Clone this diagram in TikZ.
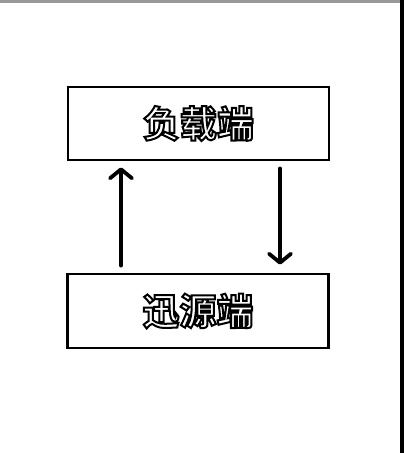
\documentclass[tikz,border=0pt]{standalone}
\usepackage{fontspec}
\newfontfamily\cjk{Noto Sans CJK SC Bold}
\usetikzlibrary{arrows.meta}
\newcommand{\outlinetext}[1]{{\color{white}\special{pdf:code 2 Tr 0 G 2 w}#1\special{pdf:code 0 Tr}}}
\tikzset{
  boxnode/.style={draw=black, line width=2.8pt, fill=white, minimum width=261pt, inner sep=0pt, font=\cjk\fontsize{37pt}{40pt}\selectfont},
  flowarrow/.style={line width=3.8pt, line cap=round, -{Straight Barb[length=9pt,width=22pt,round]}}
}
\begin{document}
\begin{tikzpicture}[x=1pt,y=-1pt]
\useasboundingbox (0,0) rectangle (404,453);
\fill[white] (0,0) rectangle (404,453);
\fill[black!40] (0,0) rectangle (404,3);
\fill[black] (400,0) rectangle (404,453);
\node[boxnode, minimum height=73pt] (top) at (198.5,123.5) {\outlinetext{负载端}};
\node[boxnode, minimum height=74pt] (bot) at (198,311) {\outlinetext{迅源端}};
\draw[flowarrow] ([xshift=-77pt,yshift=7pt]bot.north) -- ([xshift=-77.5pt,yshift=-6pt]top.south);
\draw[flowarrow] ([xshift=81.5pt,yshift=-7pt]top.south) -- ([xshift=82pt,yshift=8pt]bot.north);
\end{tikzpicture}
\end{document}
